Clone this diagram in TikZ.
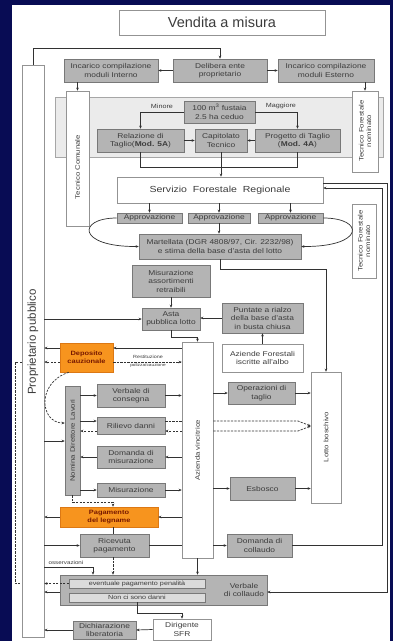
\documentclass[tikz,border=0pt]{standalone}
\usepackage{fontspec}
\setmainfont[FakeStretch=1.2]{Liberation Sans}
\newfontfamily\plainsans{Liberation Sans}
\usetikzlibrary{arrows.meta,calc}
\definecolor{navy}{RGB}{8,12,84}
\definecolor{boxfill}{RGB}{180,180,180}
\definecolor{boxline}{RGB}{120,120,120}
\definecolor{orng}{RGB}{247,148,30}
\definecolor{orngline}{RGB}{220,120,20}
\definecolor{darkred}{RGB}{120,25,0}
\definecolor{txt}{RGB}{60,60,60}
\definecolor{lnc}{RGB}{50,50,50}
\newcommand\bx[6]{\node[#1,minimum width={(#5)-(#3)},minimum height={(#6)-(#4)}] (#2) at ({((#3)+(#5))/2},{((#4)+(#6))/2})}
\begin{document}
\begin{tikzpicture}[x=1pt,y=-1pt,
  base/.style={inner sep=0pt,align=center,text=txt,font=\fontsize{7}{8.5}\selectfont,line width=0.6pt},
  gbox/.style={base,draw=boxline,fill=boxfill},
  wbox/.style={base,draw=boxline!80,fill=white},
  lbox/.style={base,draw=boxline,fill=black!14,font=\fontsize{6}{7}\selectfont},
  obox/.style={base,draw=orngline,fill=orng,text=darkred,font=\fontsize{6.2}{7.8}\selectfont\bfseries},
  rlab/.style={rotate=90,inner sep=0pt,align=center,text=txt,font=\fontsize{6.5}{7.5}\selectfont},
  small/.style={inner sep=0pt,text=txt,font=\fontsize{6}{7}\selectfont},
  ln/.style={draw=lnc,line width=0.7pt},
  arr/.style={ln,-{Stealth[length=3pt,width=2.6pt]}},
  dsh/.style={dash pattern=on 2.2pt off 1.3pt}]
\fill[navy] (0,0) rectangle (393,641);
\fill[white] (12,5) rectangle (390,641);
\useasboundingbox (0,0) rectangle (393,641);

% title
\bx{wbox,font=\plainsans\fontsize{14.5}{16}\selectfont}{T}{119}{10}{325}{35}{Vendita a misura};
% proprietario
\bx{wbox}{Prop}{22}{65}{44}{637}{};
\node[rotate=90,inner sep=0pt,text=txt,font=\plainsans\fontsize{11.5}{13}\selectfont] (PropL) at (33,342) {Proprietario pubblico};

% row 2
\bx{gbox}{Int}{64}{59}{158}{82}{Incarico compilazione\\moduli Interno};
\bx{gbox}{Deli}{173}{59}{267}{82}{Delibera ente\\proprietario};
\bx{gbox}{Est}{278}{59}{374}{82}{Incarico compilazione\\moduli Esterno};

% panel
\bx{base,draw=black!35,fill=black!8}{Panel}{55}{97}{383}{157}{};
\bx{wbox}{TC}{66}{91}{89}{226}{};
\node[rlab] (TCL) at (77.5,167) {Tecnico Comunale};
\bx{wbox}{TF1}{352}{91}{378}{172}{};
\node[rlab] (TF1L) at (365,131) {Tecnico Forestale\\nominato};

\bx{gbox}{Hund}{184}{101}{255}{123}{100 m\textsuperscript{3} fustaia\\2.5 ha ceduo};
\node[small] (Min) at (162,106) {Minore};
\node[small] (Mag) at (281,106) {Maggiore};
\bx{gbox}{Rel}{97}{129}{184}{152}{Relazione di\\Taglio(\textbf{Mod. 5A})};
\bx{gbox}{Cap}{195}{129}{247}{152}{Capitolato\\Tecnico};
\bx{gbox}{Prog}{255}{129}{340}{152}{Progetto di Taglio\\(\textbf{Mod. 4A})};

% servizio
\bx{wbox,font=\fontsize{8.8}{10}\selectfont}{Serv}{117}{177}{323}{203}{Servizio\ \ Forestale\ \ Regionale};
\bx{gbox}{Ap1}{117}{213}{182}{223}{Approvazione};
\bx{gbox}{Ap2}{188}{213}{250}{223}{Approvazione};
\bx{gbox}{Ap3}{258}{213}{323}{223}{Approvazione};
\bx{gbox}{Mart}{139}{234}{301}{259}{Martellata (DGR 4808/97, Cir. 2232/98)\\e stima della base d'asta del lotto};
\bx{wbox}{TF2}{352}{204}{376}{278}{};
\node[rlab] (TF2L) at (364,241) {Tecnico Forestale\\nominato};

\bx{gbox}{Mis}{132}{265}{210}{297}{Misurazione\\assortimenti\\retraibili};
\bx{gbox}{Asta}{142}{308}{200}{330}{Asta\\pubblica lotto};
\bx{gbox}{Punt}{222}{303}{303}{333}{Puntate a rialzo\\della base d'asta\\in busta chiusa};
\bx{wbox}{Az}{222}{344}{303}{372}{Aziende Forestali\\iscritte all'albo};

\bx{obox}{Dep}{60}{343}{113}{372}{Deposito\\cauzionale};
\bx{wbox}{AzV}{182}{342}{213}{558}{};
\node[rlab] (AzVL) at (197.5,450) {Azienda vincitrice};
\bx{wbox}{Lotto}{311}{372}{341}{503}{};
\node[rlab] (LottoL) at (326,437) {Lotto boschivo};

\bx{gbox}{Nom}{65}{386}{80}{495}{};
\node[rlab] (NomL) at (72.5,440.5) {Nomina Direttore Lavori};
\bx{gbox}{Vc}{97}{384}{165}{407}{Verbale di\\consegna};
\bx{gbox}{Ril}{97}{417}{165}{434}{Rilievo danni};
\bx{gbox}{Dm}{97}{446}{165}{468}{Domanda di\\misurazione};
\bx{gbox}{Mz}{97}{483}{165}{497}{Misurazione};
\bx{gbox}{Op}{228}{382}{295}{404}{Operazioni di\\taglio};
\bx{gbox}{Esb}{230}{477}{295}{500}{Esbosco};

\bx{obox}{Pag}{60}{507}{158}{527}{Pagamento\\del legname};
\bx{gbox}{Ric}{80}{534}{149}{557}{Ricevuta\\pagamento};
\bx{gbox}{Dc}{227}{534}{292}{557}{Domanda di\\collaudo};

\bx{gbox}{Vcol}{60}{575}{267}{605}{};
\node[base] (VcolL) at (244,590) {Verbale\\di collaudo};
\bx{lbox}{Pen}{69}{579}{205}{588}{eventuale pagamento penalità};
\bx{lbox}{Ncd}{69}{593}{205}{602}{Non ci sono danni};
\bx{wbox}{Dir}{153}{619}{211}{640}{Dirigente\\SFR};
\bx{gbox}{Dic}{73}{621}{136}{639}{Dichiarazione\\liberatoria};

% ---------- connectors
\draw[arr] (Prop.north) -- ++(0,-16) -| (Deli.north);
\draw[arr] (Deli.west) -- (Int.east);
\draw[arr] (Deli.east) -- (Est.west);
\draw[arr] (TC.north |- Int.south) -- (TC.north);
\draw[arr] (TF1.north |- Est.south) -- (TF1.north);

\draw[arr] (Hund.west) -| (Rel.north);
\draw[arr] (Hund.east) -| (Prog.north);
\draw[arr] (Rel.east) -- (Cap.west);
\draw[arr] (Prog.west) -- (Cap.east);
\draw[ln] (Rel.south) -- (Rel.south |- 0,167) -- (Prog.south |- 0,167) -- (Prog.south);
\draw[arr] (Cap.south) -- (Cap.south |- Serv.north);

\foreach \a in {Ap1,Ap2,Ap3} \draw[arr] (\a.north |- Serv.south) -- (\a.north);
\draw[arr] (Ap2.south) -- (Ap2.south |- Mart.north);
\draw[arr] (Ap1.west) .. controls (77,218) and (77,247) .. (Mart.west);
\draw[arr] (Ap3.east) .. controls (365,218) and (365,247) .. (Mart.east);

\draw[arr] (Mart.south) -- (Mart.south |- 0,269) -| (Lotto.north);
\draw[arr] (Mis.south) -- (Asta.north);
\draw[arr] (Prop.east |- Asta.west) -- (Asta.west);
\draw[arr] (Punt.west) -- (Asta.east |- Punt.west);
\draw[arr] (Az.north) -- (Punt.south);
\draw[arr] (Asta.south) -- ++(0,7) -| (AzV.north);

% deposito
\draw[arr] (AzV.west |- 0,348) -- (Dep.east |- 0,348);
\draw[arr] (Dep.west |- 0,348) -- (Prop.east |- 0,348);
\draw[arr,dsh] (Dep.east |- 0,362) -- (AzV.west |- 0,362);
\draw[arr,dsh] (Dep.west |- 0,362) -- (Prop.east |- 0,362);
\node[small,font=\fontsize{4.5}{5}\selectfont] (Rest) at (148,357) {Restituzione};
\node[small,font=\fontsize{4}{5}\selectfont] (Pol) at (148,365.5) {polizza/cauzione};
\draw[ln,dsh] (Prop.west |- 0,362) -- (15,362) -- (15,583) -- (Prop.west |- 0,583);
\draw[arr,dsh] ($(Dep.south west)+(9,0)$) .. controls (36,383) and (40,423) .. (Nom.west |- 0,423);

% nomina
\draw[arr] (Prop.east |- 0,441) -- (Nom.west |- 0,441);
\draw[arr] (Nom.east |- Vc.west) -- (Vc.west);
\draw[arr] (Nom.east |- 0,421) -- (Ril.west |- 0,421);
\draw[arr,dsh] (Ril.west |- 0,431) -- (Nom.east |- 0,431);
\draw[arr] (Dm.west) -- (Nom.east |- Dm.west);
\draw[arr] (Nom.east |- Mz.west) -- (Mz.west);

\draw[arr] (Vc.east) -- (AzV.west |- Vc.east);
\draw[ln,dsh] (Ril.east |- 0,421) -- (AzV.west |- 0,421);
\draw[arr,dsh] (AzV.west |- 0,431) -- (Ril.east |- 0,431);
\draw[arr] (AzV.west |- Dm.east) -- (Dm.east);
\draw[arr] (Mz.east) -- (AzV.west |- Mz.east);

\draw[arr] (AzV.east |- Op.west) -- (Op.west);
\draw[arr] (Op.east) -- (Lotto.west |- Op.east);
\draw[arr] (AzV.east |- Esb.west) -- (Esb.west);
\draw[arr] (Esb.east) -- (Lotto.west |- Esb.east);
\draw[arr,dsh] (AzV.east |- 0,421) -- (298,421) -- (Lotto.west |- 0,426);
\draw[arr,dsh] (AzV.east |- 0,431) -- (298,431) -- (Lotto.west |- 0,426);

% pagamento
\draw[arr] (AzV.west |- Pag.east) -- (Pag.east);
\draw[arr] (Pag.west) -- (Prop.east |- Pag.west);
\draw[arr,dsh] (Nom.south) -- ++(0,7) -| (Pag.north -| 113,0);
\draw[ln] (Pag.south -| 113,0) -- (Ric.north -| 113,0);
\draw[arr] (Prop.east |- Ric.west) -- (Ric.west);
\draw[ln] (Ric.east) -- (AzV.west |- Ric.east);
\draw[arr,dsh] (Ric.south -| 113,0) -- (Vcol.north -| 113,0);
\draw[arr] (AzV.east |- Dc.west) -- (Dc.west);
\draw[arr] (AzV.south) -- (AzV.south |- Vcol.north);
\draw[arr] (Dc.east) -| (382,188) -- (Serv.east |- 0,188);
\draw[arr] (Serv.east |- 0,183) -| (387,592) -- (Vcol.east |- 0,592);

% collaudo
\draw[arr] (Prop.east |- 0,567) -| (Vcol.north -| 93,0);
\node[small,font=\fontsize{5.2}{6}\selectfont] (Oss) at (66,562.5) {osservazioni};
\draw[arr,dsh] (Pen.west) -- (Prop.east |- Pen.west);
\draw[arr] (Vcol.west |- 0,592) -- (Prop.east |- 0,592);
\draw[arr] (Ncd.south) -- ++(0,11) -| (Dir.north);
\draw[arr] (Dir.west) -- (Dic.east);
\draw[arr] (Dic.west) -- (Prop.east |- Dic.west);
\end{tikzpicture}
\end{document}
